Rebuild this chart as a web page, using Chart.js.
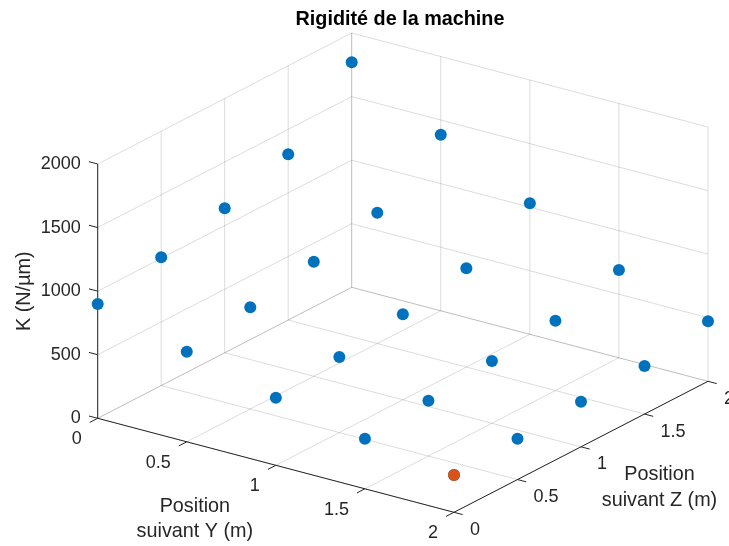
<!DOCTYPE html>
<html lang="fr">
<head>
<meta charset="utf-8">
<title>Rigidité de la machine</title>
<script src="https://cdn.jsdelivr.net/npm/chart.js@4/dist/chart.umd.min.js"></script>
<style>
  html, body { margin: 0; padding: 0; background: #ffffff; }
  canvas { display: block; }
</style>
</head>
<body>
<canvas id="chart" width="729" height="546"></canvas>
<script>
// Measurement grid (m)
const positionsY = [0, 0.5, 1, 1.5, 2];
const positionsZ = [0, 0.5, 1, 1.5, 2];

// Stiffness K (N/µm), one list per Y position, ordered by Z
const stiffnessAtY0   = [899, 1009, 1136, 1304, 1770];
const stiffnessAtY0_5 = [709, 800, 901, 1029, 1385];
const stiffnessAtY1   = [532, 594, 672, 777, 1030];
const stiffnessAtY1_5 = [394, 435, 490, 549, 690];
const stiffnessAtY2   = [293, 321, 355, 378, 472];
const stiffnessRows = [stiffnessAtY0, stiffnessAtY0_5, stiffnessAtY1, stiffnessAtY1_5, stiffnessAtY2];

// Axis ranges and ticks
const rangeY = [0, 2];
const rangeZ = [0, 2];
const rangeK = [0, 2000];
const ticksY = [0, 0.5, 1, 1.5, 2];
const ticksZ = [0, 0.5, 1, 1.5, 2];
const ticksK = [0, 500, 1000, 1500, 2000];
const tickLabelsY = ['0', '0.5', '1', '1.5', '2'];
const tickLabelsZ = ['0', '0.5', '1', '1.5', '2'];
const tickLabelsK = ['0', '500', '1000', '1500', '2000'];

// Oblique view of the plot box: screen displacement for a full sweep of each axis
const view = {
  y: [356.3, -94],
  z: [254, 131],
  k: [0, 254.3]
};

function project(y, z, k) {
  const a = (y - rangeY[0]) / (rangeY[1] - rangeY[0]);
  const b = (z - rangeZ[0]) / (rangeZ[1] - rangeZ[0]);
  const c = (k - rangeK[0]) / (rangeK[1] - rangeK[0]);
  return {
    x: a * view.y[0] + b * view.z[0] + c * view.k[0],
    y: a * view.y[1] + b * view.z[1] + c * view.k[1]
  };
}

// All measured points
const measured = [];
positionsY.forEach((y, i) => {
  positionsZ.forEach((z, j) => {
    measured.push(Object.assign(project(y, z, stiffnessRows[i][j]), { Y: y, Z: z, K: stiffnessRows[i][j] }));
  });
});

// Weakest point of the workspace
const weakest = measured.reduce((m, p) => (p.K < m.K ? p : m), measured[0]);

const FONT = '"Liberation Sans", Arial, Helvetica, sans-serif';
const AXIS_COLOR = '#262626';
const GRID_COLOR = 'rgba(38,38,38,0.16)';

const box3d = {
  id: 'box3d',
  beforeDatasetsDraw(chart) {
    const ctx = chart.ctx;
    const sx = chart.scales.x, sy = chart.scales.y;
    const P = (y, z, k) => {
      const p = project(y, z, k);
      return { x: sx.getPixelForValue(p.x), y: sy.getPixelForValue(p.y) };
    };
    const seg = (a, b) => {
      ctx.beginPath();
      ctx.moveTo(a.x, a.y);
      ctx.lineTo(b.x, b.y);
      ctx.stroke();
    };
    const unit = (a, b) => {
      const dx = b.x - a.x, dy = b.y - a.y, n = Math.hypot(dx, dy);
      return { x: dx / n, y: dy / n };
    };
    const [y0, y1] = rangeY, [z0, z1] = rangeZ, [k0, k1] = rangeK;

    ctx.save();
    // grid: floor, Y = 0 wall, Z = max wall
    ctx.strokeStyle = GRID_COLOR;
    ctx.lineWidth = 1;
    ticksY.forEach(t => seg(P(t, z0, k0), P(t, z1, k0)));
    ticksZ.forEach(t => seg(P(y0, t, k0), P(y1, t, k0)));
    ticksZ.forEach(t => seg(P(y0, t, k0), P(y0, t, k1)));
    ticksK.forEach(t => seg(P(y0, z0, t), P(y0, z1, t)));
    ticksY.forEach(t => seg(P(t, z1, k0), P(t, z1, k1)));
    ticksK.forEach(t => seg(P(y0, z1, t), P(y1, z1, t)));

    // axis lines
    ctx.strokeStyle = AXIS_COLOR;
    seg(P(y0, z0, k0), P(y0, z0, k1));
    seg(P(y0, z0, k0), P(y1, z0, k0));
    seg(P(y1, z0, k0), P(y1, z1, k0));

    // tick marks
    const TL = 9;
    const dirY = unit(P(y0, z0, k0), P(y1, z0, k0));
    const dirZ = unit(P(y0, z0, k0), P(y0, z1, k0));
    ticksK.forEach(t => { const a = P(y0, z0, t); seg(a, { x: a.x - dirY.x * TL, y: a.y - dirY.y * TL }); });
    ticksY.forEach(t => { const a = P(t, z0, k0); seg(a, { x: a.x - dirZ.x * TL, y: a.y - dirZ.y * TL }); });
    ticksZ.forEach(t => { const a = P(y1, t, k0); seg(a, { x: a.x + dirY.x * TL, y: a.y + dirY.y * TL }); });

    // tick labels
    ctx.fillStyle = AXIS_COLOR;
    ctx.font = '18px ' + FONT;
    ctx.textBaseline = 'middle';
    ctx.textAlign = 'right';
    ticksK.forEach((t, i) => { const a = P(y0, z0, t); ctx.fillText(tickLabelsK[i], a.x - 17, a.y); });
    ticksY.forEach((t, i) => { const a = P(t, z0, k0); ctx.fillText(tickLabelsY[i], a.x - 16, a.y + 21); });
    ctx.textAlign = 'left';
    ticksZ.forEach((t, i) => { const a = P(y1, t, k0); ctx.fillText(tickLabelsZ[i], a.x + 16, a.y + 17.5); });

    // axis titles
    ctx.font = '19.8px ' + FONT;
    ctx.textAlign = 'center';
    const my = P((y0 + y1) / 2, z0, k0);
    ctx.fillText('Position', my.x - 81, my.y + 41);
    ctx.fillText('suivant Y (m)', my.x - 81, my.y + 66);
    const mz = P(y1, (z0 + z1) / 2, k0);
    ctx.fillText('Position', mz.x + 78.5, mz.y + 28);
    ctx.fillText('suivant Z (m)', mz.x + 78.5, mz.y + 54);
    const mk = P(y0, z0, (k0 + k1) / 2);
    ctx.save();
    ctx.translate(mk.x - 73, mk.y);
    ctx.rotate(-Math.PI / 2);
    ctx.fillText('K (N/µm)', 0, 0);
    ctx.restore();

    // title
    ctx.fillStyle = '#000000';
    ctx.font = 'bold 19.8px ' + FONT;
    ctx.fillText('Rigidité de la machine', 400, 20);
    ctx.restore();
  }
};

new Chart(document.getElementById('chart'), {
  type: 'scatter',
  data: {
    datasets: [
      {
        label: 'K min',
        data: [weakest],
        order: 0,
        pointRadius: 6,
        pointHoverRadius: 6,
        pointBorderWidth: 0,
        backgroundColor: '#D95319',
        borderColor: '#D95319'
      },
      {
        label: 'K',
        data: measured,
        order: 1,
        pointRadius: 6,
        pointHoverRadius: 6,
        pointBorderWidth: 0,
        backgroundColor: '#0072BD',
        borderColor: '#0072BD'
      }
    ]
  },
  options: {
    responsive: false,
    animation: false,
    layout: { padding: 0, autoPadding: false },
    plugins: {
      legend: { display: false },
      tooltip: { enabled: false },
      title: { display: false }
    },
    scales: {
      x: { type: 'linear', display: false, min: -97.7, max: 631.3 },
      y: { type: 'linear', display: false, min: -127.7, max: 418.3 }
    }
  },
  plugins: [box3d]
});
</script>
</body>
</html>
